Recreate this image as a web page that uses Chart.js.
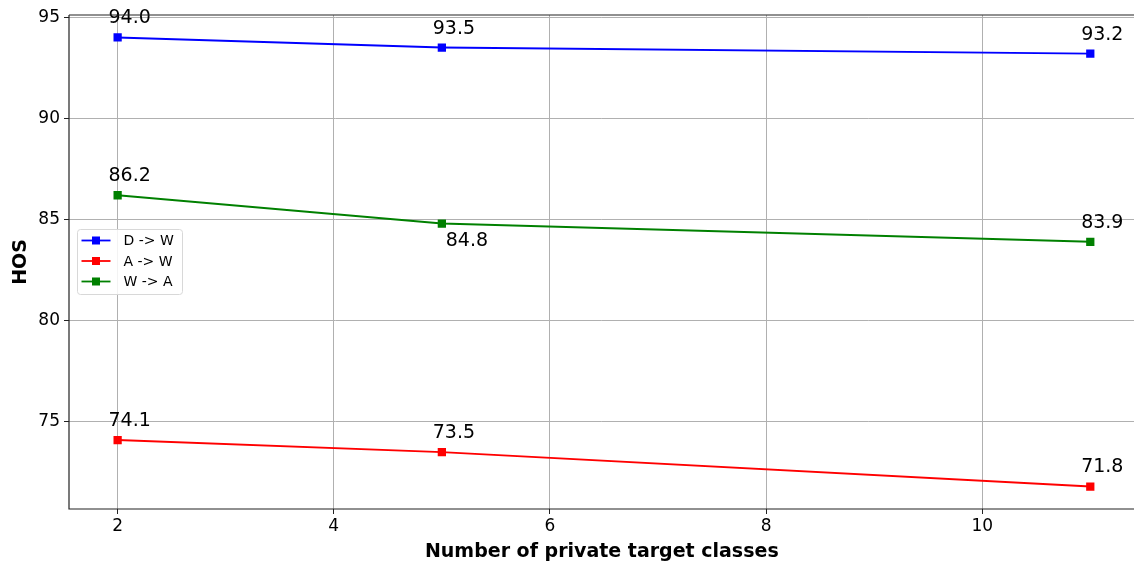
<!DOCTYPE html>
<html>
<head>
<meta charset="utf-8">
<script src="https://cdn.jsdelivr.net/npm/chart.js@4/dist/chart.umd.min.js"></script>
<style>
  html, body { margin: 0; padding: 0; background: #fff; overflow: hidden; }
  #wrap { width: 1134px; height: 565px; overflow: hidden; }
</style>
</head>
<body>
<div id="wrap"><canvas id="c" width="1141" height="565"></canvas></div>
<script>
// Number of private target classes
const classCounts = [2, 5, 11];
// HOS per transfer task
const dToW = [94.0, 93.5, 93.2];
const aToW = [74.1, 73.5, 71.8];
const wToA = [86.2, 84.8, 83.9];
const seriesNames = ['D -> W', 'A -> W', 'W -> A'];
const seriesColors = ['#0000ff', '#ff0000', '#008000'];
const xTicks = [2, 4, 6, 8, 10];
const yTicks = [75, 80, 85, 90, 95];

const FONT = "'DejaVu Sans', sans-serif";

function toPoints(vals) {
  return classCounts.map((x, i) => ({ x: x, y: vals[i] }));
}

// value labels next to each marker; the middle W->A label sits below-right
const labelOffsets = {
  0: [[12, -19], [12, -19], [12, -19]],
  1: [[12, -19], [12, -19], [12, -19]],
  2: [[12, -19], [25, 17], [12, -19]]
};

const valueLabels = {
  id: 'valueLabels',
  afterDatasetsDraw(chart) {
    const ctx = chart.ctx;
    ctx.save();
    ctx.font = '19px ' + FONT;
    ctx.fillStyle = '#000';
    ctx.textAlign = 'center';
    ctx.textBaseline = 'middle';
    chart.data.datasets.forEach((ds, di) => {
      const meta = chart.getDatasetMeta(di);
      meta.data.forEach((pt, i) => {
        const off = labelOffsets[di][i];
        ctx.fillText(ds.data[i].y.toFixed(1), pt.x + off[0], pt.y + off[1]);
      });
    });
    ctx.restore();
  }
};

const frameAndLegend = {
  id: 'frameAndLegend',
  afterDraw(chart) {
    const ctx = chart.ctx;
    const a = chart.chartArea;
    ctx.save();
    // spines
    ctx.strokeStyle = '#222';
    ctx.lineWidth = 1.2;
    ctx.beginPath();
    ctx.moveTo(a.left, a.top);
    ctx.lineTo(a.right, a.top);
    ctx.moveTo(a.left, a.top);
    ctx.lineTo(a.left, a.bottom);
    ctx.lineTo(a.right, a.bottom);
    ctx.stroke();

    // legend box
    const bx = a.left + 8.5, by = 229.5, bw = 105, bh = 65;
    ctx.fillStyle = 'rgba(255,255,255,0.85)';
    ctx.strokeStyle = '#d8d8d8';
    ctx.lineWidth = 1;
    ctx.beginPath();
    if (ctx.roundRect) ctx.roundRect(bx, by, bw, bh, 3); else ctx.rect(bx, by, bw, bh);
    ctx.fill();
    ctx.stroke();
    ctx.font = '14px ' + FONT;
    ctx.textBaseline = 'middle';
    ctx.textAlign = 'left';
    chart.data.datasets.forEach((ds, i) => {
      const y = by + 11 + i * 20.5;
      ctx.strokeStyle = ds.borderColor;
      ctx.lineWidth = 1.8;
      ctx.beginPath();
      ctx.moveTo(bx + 4, y);
      ctx.lineTo(bx + 33, y);
      ctx.stroke();
      ctx.fillStyle = ds.borderColor;
      ctx.fillRect(bx + 18.5 - 4, y - 4, 8, 8);
      ctx.fillStyle = '#000';
      ctx.fillText(ds.label, bx + 46, y + 1);
    });
    ctx.restore();
  }
};

new Chart(document.getElementById('c'), {
  type: 'line',
  data: {
    datasets: [dToW, aToW, wToA].map((vals, i) => ({
      label: seriesNames[i],
      data: toPoints(vals),
      borderColor: seriesColors[i],
      backgroundColor: seriesColors[i],
      borderWidth: 1.9,
      pointStyle: 'rect',
      pointRadius: 4.5,
      pointHoverRadius: 4.5,
      tension: 0
    }))
  },
  options: {
    responsive: false,
    animation: false,
    events: [],
    layout: { padding: { left: 0, right: 0, top: 15, bottom: 0 } },
    plugins: {
      legend: { display: false },
      tooltip: { enabled: false }
    },
    scales: {
      x: {
        type: 'linear',
        min: 1.55,
        max: 11.41,
        afterBuildTicks(scale) { scale.ticks = xTicks.map(v => ({ value: v })); },
        afterFit(scale) { scale.height = 56; },
        border: { display: false },
        grid: { color: '#b0b0b0', lineWidth: 1, tickLength: 5, tickColor: '#222' },
        ticks: { color: '#000', font: { family: FONT, size: 17 }, padding: 2, maxRotation: 0 },
        title: {
          display: true,
          text: 'Number of private target classes',
          color: '#000',
          font: { family: FONT, size: 19, weight: 'bold' },
          padding: { top: 1, bottom: 2 }
        }
      },
      y: {
        min: 70.69,
        max: 95.11,
        afterBuildTicks(scale) { scale.ticks = yTicks.map(v => ({ value: v })); },
        afterFit(scale) { scale.width = 69; },
        border: { display: false },
        grid: { color: '#b0b0b0', lineWidth: 1, tickLength: 5, tickColor: '#222' },
        ticks: { color: '#000', font: { family: FONT, size: 17 }, padding: 4 },
        title: {
          display: true,
          text: 'HOS',
          color: '#000',
          font: { family: FONT, size: 19, weight: 'bold' },
          padding: { top: 10, bottom: 4 }
        }
      }
    }
  },
  plugins: [valueLabels, frameAndLegend]
});
</script>
</body>
</html>
